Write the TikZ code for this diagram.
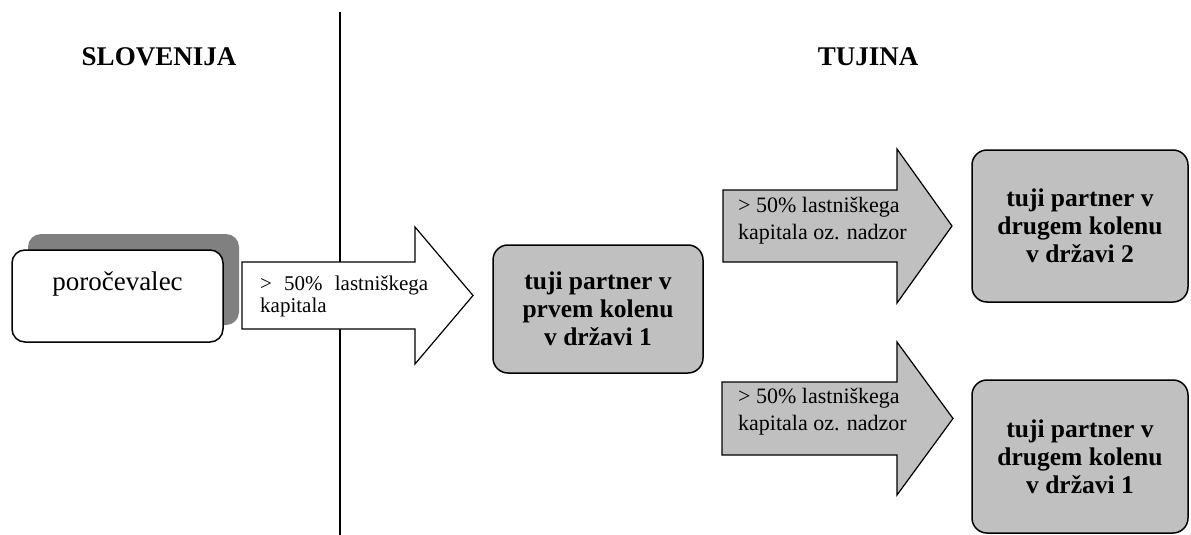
\documentclass[tikz,border=0pt]{standalone}
\usepackage{fontspec}
\setmainfont{Liberation Serif}
\definecolor{boxgray}{HTML}{C0C0C0}
\definecolor{shadowgray}{HTML}{808080}
\begin{document}
\begin{tikzpicture}[x=1pt,y=-1pt,
  heading/.style={font=\fontsize{27}{31}\selectfont\bfseries},
  partner/.style={draw, line width=1.5pt, rounded corners=15pt, fill=boxgray,
    align=center, font=\fontsize{25.5}{28}\selectfont\bfseries, inner sep=0pt},
  blockarrow/.style={draw, line width=1.2pt, line join=miter},
  arrowtext/.style={align=left, anchor=west, inner sep=0pt,
    font=\fontsize{22}{27}\selectfont}
]
\useasboundingbox (0,0) rectangle (1191,535);

% headings
\node[heading] (slo) at (159,57) {SLOVENIJA};
\node[heading] (tuj) at (868,57) {TUJINA};

% border line
\coordinate (ltop) at (340,12);
\coordinate (lbot) at (340,535);
\draw[line width=1.2pt] (ltop) -- (lbot);

% reporter with shadow
\node[fill=shadowgray, rounded corners=13pt, minimum width=211pt, minimum height=91pt, inner sep=0pt] (shadow) at (133.5,279.5) {};
\node[draw, fill=white, line width=1.5pt, rounded corners=13pt, minimum width=211pt, minimum height=92pt, inner sep=0pt] (rep) at (117.5,296) {};
\node[font=\fontsize{27}{31}\selectfont, inner sep=0pt, anchor=base] (replabel) at (117.5,290) {poročevalec};

% arrow 1
\draw[blockarrow, fill=white] (242,262) -- (415,262) -- (415,227) -- (473,295.5)
  -- (415,364) -- (415,329) -- (242,329) -- cycle;
\node[arrowtext, font=\fontsize{21}{22}\selectfont] (a1text) at (260,296)
  {\makebox[168pt][s]{> 50\% lastniškega}\\kapitala};

% partner 1
\node[partner, minimum width=210pt, minimum height=128pt] (p1) at (598,309)
  {tuji partner v\\prvem kolenu\\v državi 1};

% arrow 2
\draw[blockarrow, fill=boxgray] (723,190) -- (897,190) -- (897,149) -- (952,226)
  -- (897,303) -- (897,262) -- (723,262) -- cycle;
\node[arrowtext] (a2text) at (738,221) {> 50\% lastniškega\\kapitala oz. nadzor};

% partner 2
\node[partner, minimum width=216pt, minimum height=152pt] (p2) at (1080,226)
  {tuji partner v\\drugem kolenu\\v državi 2};

% arrow 3
\draw[blockarrow, fill=boxgray] (722,382) -- (897,382) -- (897,342) -- (953,418.5)
  -- (897,495) -- (897,455) -- (722,455) -- cycle;
\node[arrowtext] (a3text) at (738,411.5) {> 50\% lastniškega\\kapitala oz. nadzor};

% partner 3
\node[partner, minimum width=216pt, minimum height=153pt] (p3) at (1080,456.5)
  {tuji partner v\\drugem kolenu\\v državi 1};
\end{tikzpicture}
\end{document}
